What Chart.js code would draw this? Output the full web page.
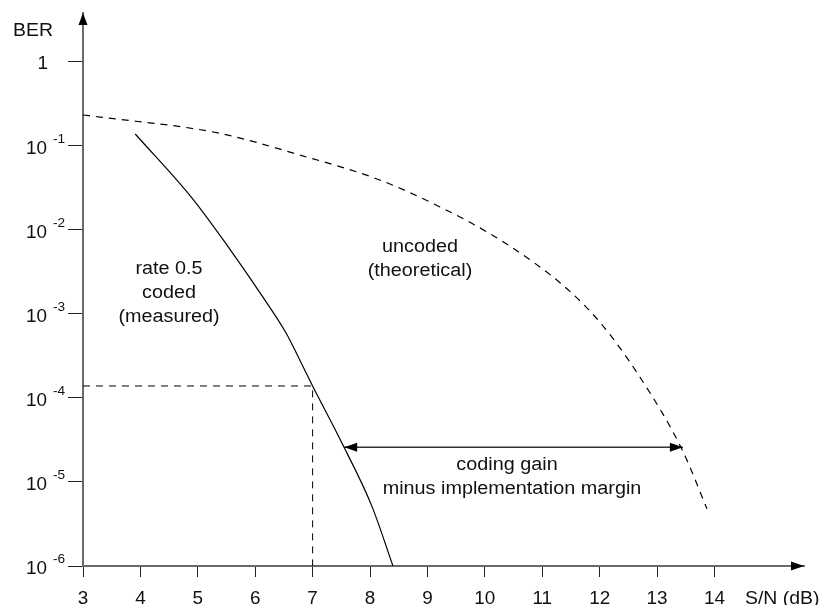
<!DOCTYPE html>
<html>
<head>
<meta charset="utf-8">
<title>BER vs S/N</title>
<script src="https://cdn.jsdelivr.net/npm/chart.js@4.4.1/dist/chart.umd.min.js"></script>
<style>
  body { margin: 0; background: #fff; }
  #wrap { width: 838px; height: 605px; }
</style>
</head>
<body>
<div id="wrap"><canvas id="myChart" width="838" height="605"></canvas></div>
<script>
'use strict';

// data

let xTicks = [3, 4, 5, 6, 7, 8, 9, 10, 11, 12, 13, 14];
let yTicks = [1e-6, 1e-5, 1e-4, 1e-3, 1e-2, 1e-1, 1];
let yTickExp = ['-6', '-5', '-4', '-3', '-2', '-1', ''];

let uncodedSnr = [3.0, 3.3, 5.35, 6.78, 8.17, 9.22, 10.04, 10.84, 11.43, 12.01, 12.70, 13.44, 13.87];
let uncodedBer = [0.234, 0.221, 0.143, 0.078, 0.0394, 0.0188, 0.00946, 0.00416, 0.0020, 7.9e-4, 1.78e-4, 2.4e-5, 4.8e-6];

let codedSnr = [3.91, 4.90, 5.53, 6.12, 6.54, 6.78, 7.0, 7.48, 8.03, 8.40];
let codedBer = [0.139, 0.024, 6.3e-3, 1.64e-3, 5.9e-4, 2.8e-4, 1.39e-4, 3.2e-5, 5.2e-6, 1e-6];

let refSnr = [3, 7, 7];
let refBer = [1.39e-4, 1.39e-4, 1e-6];

let gainSnr = [7.55, 13.45];
let gainBer = [2.6e-5, 2.6e-5];

let FONT = '"Liberation Sans", Arial, Helvetica, sans-serif';

function toPoints(xs, ys) {
    let pts = [];
    for (let i = 0; i < xs.length; i++) {
        pts.push({ x: xs[i], y: ys[i] });
    }
    return pts;
}

function drawText(ctx, s, x, y, size, align, stretch) {
    ctx.save();
    ctx.font = size + 'px ' + FONT;
    ctx.fillStyle = '#111';
    ctx.textAlign = align;
    ctx.textBaseline = 'alphabetic';
    ctx.translate(x, y);
    ctx.scale(stretch || 1, 1);
    ctx.fillText(s, 0, 0);
    ctx.restore();
}

function arrowHead(ctx, tipX, tipY, dx, dy, len, half) {
    // dx,dy = unit direction the arrow points to
    let bx = tipX - dx * len;
    let by = tipY - dy * len;
    ctx.beginPath();
    ctx.moveTo(tipX, tipY);
    ctx.lineTo(bx - dy * half, by + dx * half);
    ctx.lineTo(bx + dy * half, by - dx * half);
    ctx.closePath();
    ctx.fill();
}

let decorations = {
    id: 'decorations',
    afterDraw(chart) {
        let ctx = chart.ctx;
        let xs = chart.scales.x;
        let ys = chart.scales.y;
        let area = chart.chartArea;

        ctx.save();
        ctx.fillStyle = '#000';
        // axis arrows
        arrowHead(ctx, area.left, area.top, 0, -1, 12, 4.5);
        arrowHead(ctx, area.right, area.bottom, 1, 0, 13, 4.5);

        // coding gain arrow heads
        let gy = ys.getPixelForValue(gainBer[0]);
        arrowHead(ctx, xs.getPixelForValue(gainSnr[0]), gy, -1, 0, 13, 4.5);
        arrowHead(ctx, xs.getPixelForValue(gainSnr[1]), gy, 1, 0, 13, 4.5);
        ctx.restore();

        // y tick labels
        for (let i = 0; i < yTicks.length; i++) {
            let py = ys.getPixelForValue(yTicks[i]);
            if (yTickExp[i] === '') {
                drawText(ctx, '1', 48, py + 7, 18, 'right', 1.05);
            } else {
                drawText(ctx, '10', 47, py + 8, 18, 'right', 1.05);
                drawText(ctx, yTickExp[i], 53, py - 3, 13, 'left', 1.05);
            }
        }

        // x tick labels
        for (let i = 0; i < xTicks.length; i++) {
            let px = xs.getPixelForValue(xTicks[i]);
            drawText(ctx, String(xTicks[i]), px, 604, 18, 'center', 1.05);
        }

        // axis titles
        drawText(ctx, 'BER', 13, 36, 18, 'left', 1.08);
        drawText(ctx, 'S/N (dB)', 745, 604, 18, 'left', 1.08);

        // annotations
        drawText(ctx, 'rate 0.5', 169, 274, 18, 'center', 1.1);
        drawText(ctx, 'coded', 169, 298, 18, 'center', 1.1);
        drawText(ctx, '(measured)', 169, 322, 18, 'center', 1.1);
        drawText(ctx, 'uncoded', 420, 252, 18, 'center', 1.1);
        drawText(ctx, '(theoretical)', 420, 276, 18, 'center', 1.1);
        drawText(ctx, 'coding gain', 507, 470, 18, 'center', 1.1);
        drawText(ctx, 'minus implementation margin', 512, 494, 18, 'center', 1.1);
    }
};

let chartObject = {
    type: 'scatter',
    data: {
        datasets: [
            {
                label: 'uncoded (theoretical)',
                data: toPoints(uncodedSnr, uncodedBer),
                showLine: true,
                borderColor: '#000',
                borderWidth: 1.2,
                borderDash: [7, 6],
                pointRadius: 0,
                cubicInterpolationMode: 'monotone'
            },
            {
                label: 'rate 0.5 coded (measured)',
                data: toPoints(codedSnr, codedBer),
                showLine: true,
                borderColor: '#000',
                borderWidth: 1.2,
                pointRadius: 0,
                cubicInterpolationMode: 'monotone'
            },
            {
                label: 'reference',
                data: toPoints(refSnr, refBer),
                showLine: true,
                borderColor: '#000',
                borderWidth: 1,
                borderDash: [7, 6],
                pointRadius: 0,
                tension: 0
            },
            {
                label: 'coding gain',
                data: toPoints(gainSnr, gainBer),
                showLine: true,
                borderColor: '#333',
                borderWidth: 1.5,
                pointRadius: 0,
                tension: 0
            }
        ]
    },
    options: {
        responsive: false,
        animation: false,
        layout: {
            padding: { left: 0, top: 13, right: 34, bottom: 0 }
        },
        plugins: {
            legend: { display: false },
            tooltip: { enabled: false }
        },
        scales: {
            x: {
                type: 'linear',
                min: 3,
                max: 15.56,
                afterBuildTicks: function (scale) {
                    scale.ticks = xTicks.map(v => ({ value: v }));
                },
                afterFit: function (scale) {
                    scale.height = 39;
                },
                ticks: { display: false },
                grid: {
                    drawOnChartArea: false,
                    drawTicks: true,
                    tickLength: 11,
                    color: '#222',
                    lineWidth: 1
                },
                border: { display: true, color: '#6a6a6a', width: 2 }
            },
            y: {
                type: 'logarithmic',
                min: 1e-6,
                max: 3.83,
                afterBuildTicks: function (scale) {
                    scale.ticks = yTicks.map(v => ({ value: v }));
                },
                afterFit: function (scale) {
                    scale.width = 83;
                },
                ticks: { display: false },
                grid: {
                    drawOnChartArea: false,
                    drawTicks: true,
                    tickLength: 15,
                    color: '#222',
                    lineWidth: 1
                },
                border: { display: true, color: '#6a6a6a', width: 2 }
            }
        }
    },
    plugins: [decorations]
};

let ctx = document.getElementById('myChart').getContext('2d');
let myChart = new Chart(ctx, chartObject);
</script>
</body>
</html>
